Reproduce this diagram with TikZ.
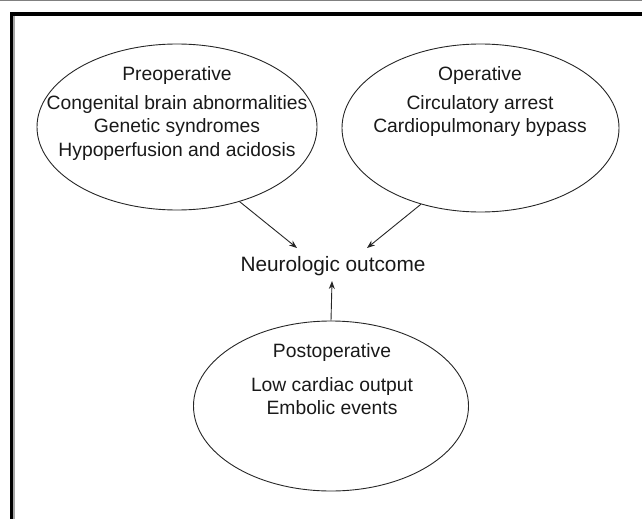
\documentclass[tikz,border=0pt]{standalone}
\usepackage{fontspec}
\setmainfont{Liberation Sans}
\usetikzlibrary{shapes.geometric,arrows.meta}
\begin{document}
\begin{tikzpicture}[x=1pt,y=-1pt,
  oval/.style={ellipse,draw=black!85,line width=0.9pt,inner sep=0pt},
  txt/.style={align=center,inner sep=1pt,font=\fontsize{19.3}{23.5}\selectfont,text=black!90},
  arr/.style={draw=black!85,line width=0.9pt,-{Stealth[length=8pt,width=6pt]}}]
\useasboundingbox (0,0) rectangle (642,519);
% frame
\draw[gray,line width=1.5pt] (0,0.75) -- (642,0.75);
\fill[black] (9.5,12) rectangle (642,16);
\fill[black] (9.5,12) rectangle (13,519);
\fill[gray!70] (13,16) rectangle (15,519);
% ellipses
\node[oval,minimum width=280pt,minimum height=166pt] (pre) at (177,127) {};
\node[oval,minimum width=277pt,minimum height=168pt] (op) at (480.5,128) {};
\node[oval,minimum width=275pt,minimum height=170pt] (post) at (331,406) {};
% texts
\node[txt] (pret) at (177,76) {Preoperative};
\node[txt] (preb) at (177,128) {Congenital brain abnormalities\\Genetic syndromes\\Hypoperfusion and acidosis};
\node[txt] (opt) at (480,76) {Operative};
\node[txt] (opb) at (480,116) {Circulatory arrest\\Cardiopulmonary bypass};
\node[txt] (postt) at (332,353) {Postoperative};
\node[txt] (postb) at (332,396) {Low cardiac output\\Embolic events};
\node[txt,font=\fontsize{20.8}{24}\selectfont] (out) at (333,266) {Neurologic outcome};
% arrow ends
\coordinate (e1) at (297,248);
\coordinate (e2) at (367,248);
\coordinate (e3) at (332,281);
\draw[arr] (pre.-50) -- (e1);
\draw[arr] (op.-128) -- (e2);
\draw[arr] (post.north) -- (e3);
\end{tikzpicture}
\end{document}
